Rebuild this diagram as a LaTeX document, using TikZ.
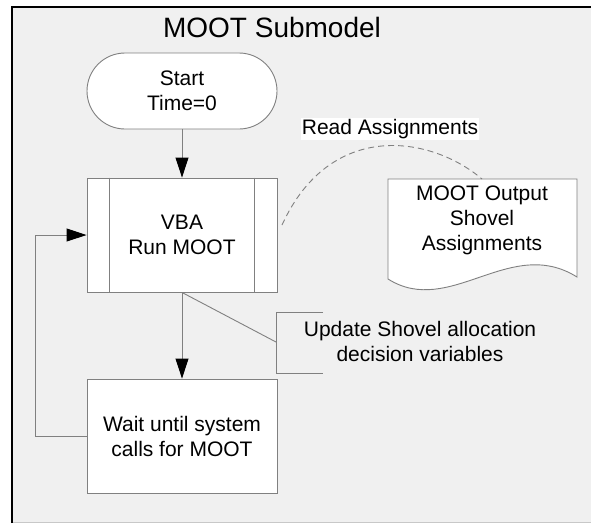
\documentclass[tikz,border=0pt]{standalone}
\usepackage{fontspec}
\setmainfont{Liberation Sans}
\usetikzlibrary{arrows.meta}
\definecolor{bgc}{HTML}{F0F0F0}
\definecolor{linec}{HTML}{808080}
\definecolor{framec}{HTML}{C8C8C8}
\begin{document}
\begin{tikzpicture}[x=1pt,y=-1pt,
  shapeline/.style={draw=linec, line width=0.9pt},
  box/.style={shapeline, fill=white, minimum width=190pt, align=center, inner sep=0pt,
              font=\fontsize{21}{25}\selectfont},
  lbl/.style={align=center, inner sep=0pt, font=\fontsize{21}{25}\selectfont},
  arr/.style={shapeline, -{Triangle[length=20pt,width=13pt,color=black]}}
]
\useasboundingbox (0,0) rectangle (591,523);
\fill[white] (0,0) rectangle (591,523);
\fill[bgc] (12,7) rectangle (591,522);
\draw[framec, line width=1pt] (12,522) -- (591,522);
\draw[black, line width=2pt] (12,523) -- (12,7) -- (591,7);

\node[font=\fontsize{28}{30}\selectfont, inner sep=0pt] (title) at (272,27) {MOOT Submodel};

\node[box, minimum height=76pt, rounded corners=38pt] (start) at (182,91) {Start\\Time=0};
\node[box, minimum height=114pt] (vba) at (182,235) {VBA\\Run MOOT};
\draw[shapeline] ([xshift=23pt]vba.north west) -- ([xshift=23pt]vba.south west);
\draw[shapeline] ([xshift=-23pt]vba.north east) -- ([xshift=-23pt]vba.south east);
\node[box, minimum height=114pt] (wait) at (182,436) {Wait until system\\calls for MOOT};

\draw[arr] (start) -- (vba);
\draw[arr] (vba) -- (wait);
\draw[arr] (wait.west) -- ++(-51,0) |- (vba.west);

% annotation
\coordinate (brk) at (276,342);
\draw[shapeline] (vba.south) -- (brk);
\draw[shapeline] (323,312) -- (276,312) -- (276,373) -- (323,373);
\node[lbl] (upd) at (420,341) {Update Shovel allocation\\decision variables};

% document
\draw[shapeline, fill=white] (388,179) -- (577,179) -- (577,277)
  .. controls (510,235) and (450,318) .. (388,279) -- cycle;
\coordinate (doctop) at (482,179);
\node[lbl] (doc) at (482,220) {MOOT Output\\Shovel\\Assignments};

% read link
\coordinate (dstart) at (282,225);
\draw[linec, line width=0.9pt, dash pattern=on 6pt off 4pt] (dstart) .. controls (330,120) and (430,135) .. (doctop);
\node[fill=white, inner xsep=1pt, inner ysep=1pt, font=\fontsize{21}{25}\selectfont] (read) at (390,129) {Read Assignments};
\end{tikzpicture}
\end{document}
